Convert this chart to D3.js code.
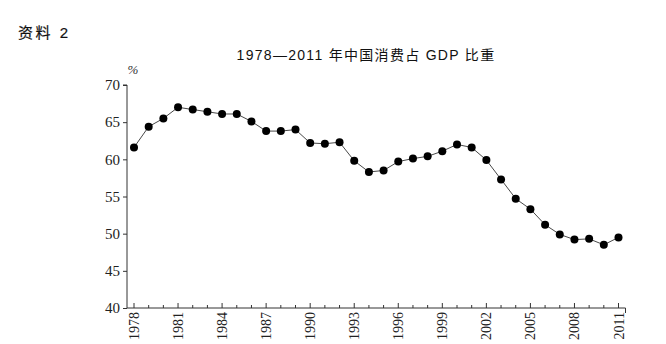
<!DOCTYPE html>
<html>
<head>
<meta charset="utf-8">
<script src="https://cdn.jsdelivr.net/npm/d3@7"></script>
<style>
  html, body { margin: 0; padding: 0; background: #fff; }
  svg { display: block; }
</style>
</head>
<body>
<svg id="chart" width="666" height="344"></svg>
<script>
// Share of consumption in China's GDP, 1978–2011 (%)
const years = d3.range(1978, 2012);
const shares = [
  61.6, 64.4, 65.5, 67.0, 66.7, 66.4, 66.1, 66.1, 65.1, 63.8,
  63.8, 64.0, 62.2, 62.1, 62.3, 59.8, 58.3, 58.5, 59.7, 60.1,
  60.4, 61.1, 62.0, 61.6, 59.9, 57.3, 54.7, 53.3, 51.2, 49.9,
  49.2, 49.3, 48.5, 49.5
];
const yTicks = [40, 45, 50, 55, 60, 65, 70];
const labelYears = d3.range(1978, 2012, 3);

const svg = d3.select("#chart");

const x = d3.scaleLinear().domain([1978, 2011]).range([134, 618.5]);
const y = d3.scaleLinear().domain([40, 70]).range([308, 85]);
const axisX = 127;

const serif = "'Liberation Serif', 'DejaVu Serif', serif";
const sans = "'Liberation Sans', 'Noto Sans CJK SC', sans-serif";

// header
svg.append("text")
  .attr("x", 18).attr("y", 38)
  .attr("font-family", sans).attr("font-size", 15).attr("font-weight", 400)
  .attr("letter-spacing", 2.5)
  .attr("fill", "#111").attr("stroke", "#111").attr("stroke-width", 0.2)
  .text("资料 2");

svg.append("text")
  .attr("x", 366).attr("y", 60)
  .attr("text-anchor", "middle")
  .attr("font-family", sans).attr("font-size", 14)
  .attr("letter-spacing", 1.3)
  .attr("fill", "#111")
  .text("1978—2011 年中国消费占 GDP 比重");

svg.append("text")
  .attr("x", 133).attr("y", 74)
  .attr("text-anchor", "middle")
  .attr("font-family", serif).attr("font-style", "italic").attr("font-size", 13)
  .attr("fill", "#333")
  .text("%");

// y axis
const gy = svg.append("g")
  .attr("transform", `translate(${axisX},0)`)
  .call(d3.axisLeft(y).tickValues(yTicks).tickSize(4).tickPadding(3).tickFormat(d3.format("d")));
gy.select(".domain").attr("stroke", "#333").attr("stroke-width", 1)
  .attr("d", `M-4,${y(70)}H0V${y(40)}`);
gy.selectAll(".tick line").attr("stroke", "#333");
gy.selectAll(".tick text")
  .attr("font-family", serif).attr("font-size", 15).attr("fill", "#222");

// x axis: ticks every year, pointing up, labels every third year
const gx = svg.append("g")
  .attr("transform", `translate(0,${y(40)})`);
gx.append("line")
  .attr("x1", axisX).attr("x2", x(2011) + 7)
  .attr("stroke", "#333");
gx.selectAll("line.yr")
  .data(years)
  .join("line")
  .attr("class", "yr")
  .attr("x1", d => x(d)).attr("x2", d => x(d))
  .attr("y1", 0).attr("y2", d => labelYears.includes(d) ? -5 : -3)
  .attr("stroke", "#333");
gx.append("line")
  .attr("x1", x(2011) + 7).attr("x2", x(2011) + 7)
  .attr("y1", 0).attr("y2", 5)
  .attr("stroke", "#333");
gx.selectAll("text.yl")
  .data(labelYears)
  .join("text")
  .attr("class", "yl")
  .attr("transform", d => `translate(${x(d) + 5},${4}) rotate(-90)`)
  .attr("text-anchor", "end")
  .attr("font-family", serif).attr("font-size", 14).attr("fill", "#222")
  .text(d => d);

// series line and markers
const line = d3.line()
  .x((d, i) => x(years[i]))
  .y(d => y(d));

svg.append("path")
  .datum(shares)
  .attr("d", line)
  .attr("fill", "none")
  .attr("stroke", "#333")
  .attr("stroke-width", 0.9);

svg.selectAll("circle.pt")
  .data(shares)
  .join("circle")
  .attr("class", "pt")
  .attr("cx", (d, i) => x(years[i]))
  .attr("cy", d => y(d))
  .attr("r", 4)
  .attr("fill", "#000");
</script>
</body>
</html>
